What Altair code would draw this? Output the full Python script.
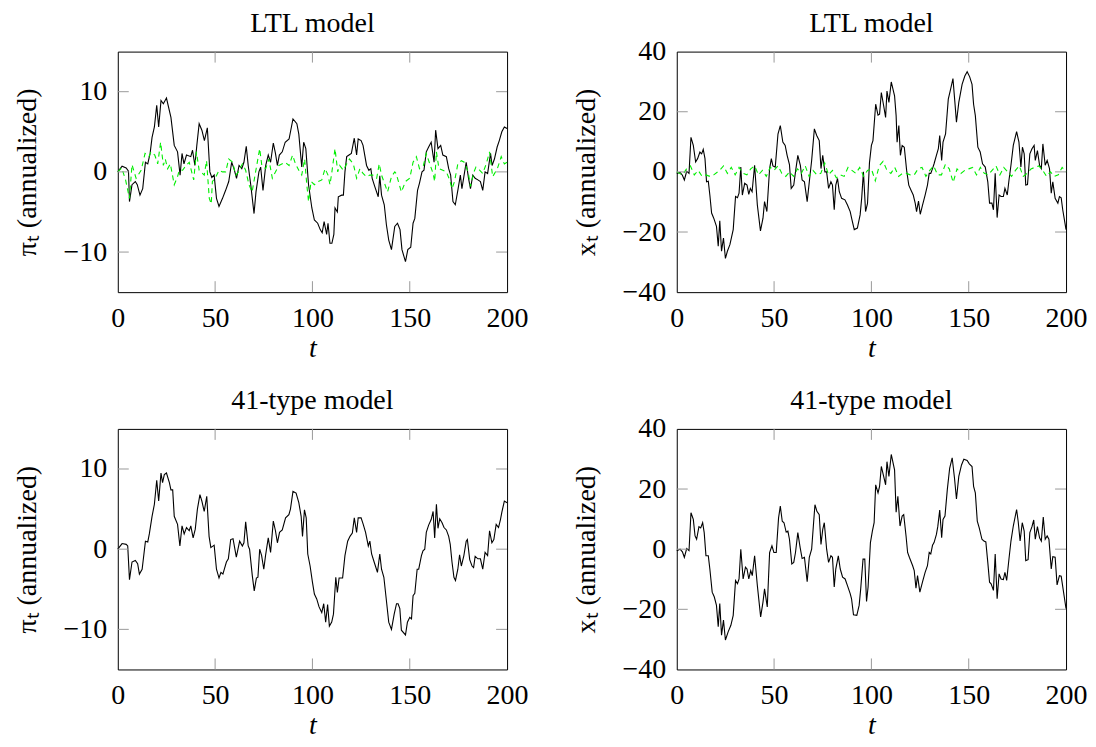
import altair as alt
import pandas as pd

# ---------------- data ----------------
X_TICKS = [0, 50, 100, 150, 200]
PI_TICKS = [-10, 0, 10]
X_GAP_TICKS = [-40, -20, 0, 20, 40]
TITLES = ["LTL model", "LTL model", "41-type model", "41-type model"]

# LTL model, inflation (black)
ltl_pi_t = [0, 2.2, 4.3, 5.5, 6, 7.3, 9, 10, 11.4, 12.8, 14.2, 15.4, 16.6, 17.6, 18.8, 20, 21, 22.2, 23.4, 25, 27.3, 29, 30.7, 32, 33, 34, 35.3, 37.5, 38.4, 39.6, 40.6, 41.8, 43.2, 44.5, 46, 47.3, 48.3, 49.5, 50.7, 52, 53.8, 55.4, 57, 58.5, 59.7, 61, 62.3, 63.7, 64.8, 66, 67, 68.3, 70, 71, 72.5, 73.4, 74.6, 76, 77.3, 78.5, 79.9, 81, 82, 83, 84.5, 86, 88, 90, 92, 93, 94.5, 95.5, 96.6, 98, 99.7, 101, 102.7, 104, 105, 106, 107.3, 108, 109, 110, 111, 111.6, 112.8, 113.3, 115, 115.9, 116.7, 117.6, 118.8, 120, 121.5, 122.7, 123.5, 125, 126, 127.8, 129, 130, 130.7, 132, 133.8, 134.6, 135.5, 136.9, 138, 139.2, 140.6, 142.3, 143.7, 145, 146, 147.8, 149, 150.5, 151.7, 152.6, 154, 155, 156.3, 157.3, 158.5, 159.7, 161, 162.5, 163.3, 164.5, 165.9, 167, 168.8, 170, 171, 172.2, 173.4, 174.7, 176, 176.8, 177.8, 179, 180.2, 181.2, 182.4, 183.6, 185, 186.3, 187.5, 188.7, 190, 191.5, 192.3, 193.5, 194.9, 196, 197.3, 198.6, 200]
ltl_pi_v = [0, 0.7, 0.5, 0.1, -3.7, -1.6, -1.2, -1.6, -2.9, -2.1, 1.2, 1.0, 2.3, 4.3, 5.6, 8.3, 5.6, 8.9, 8.5, 9.2, 6.8, 3.3, 2.5, -0.4, 2.3, 1.0, 2.1, 1.9, 2.7, 0.8, 3.3, 6.0, 5.2, 3.9, 5.5, 0, -0.7, -0.4, -3.3, -4.3, -3.3, -2.3, -1.2, 1.2, 0.4, -0.8, 0.8, 0.4, 1.2, 3.2, 0.8, -1.6, -5.2, -2.5, 0, 0.6, -2.3, 0.8, 2.1, 1.2, 3.6, 2.3, 0.8, 2.1, 2.5, 3.7, 4.1, 6.6, 6.0, 4.7, 0.6, 3.7, 2.9, -1.6, -4.5, -6.0, -6.4, -7.2, -7.6, -6.2, -7.8, -6.4, -8.9, -8.9, -7.8, -4.5, -5.0, -3.1, -2.9, -2.9, 0, 1.9, 2.1, 2.3, 4.2, 2.1, 4.1, 3.9, 3.3, 0.8, 0.2, 0.4, -0.8, -1.8, -3.1, -0.5, -2.9, -4.1, -6.6, -8.5, -9.7, -6.8, -6.4, -7.2, -9.7, -11.2, -9.7, -9.4, -6.4, -5.8, -2.3, -1.4, 0, 0.2, 2.5, 3.1, 3.7, 1.2, 5.2, 2.9, 3.3, 2.1, 1.9, 0.4, -0.4, -3.7, -4.1, -2.3, -0.4, -2.1, -0.6, 1.2, -0.8, -2.1, -0.4, -0.8, -1.0, -1.2, -2.3, 0, -0.2, 2.3, 0.8, 1.6, 3.1, 3.9, 5.0, 5.6, 5.4]

# LTL model, inflation (green dashed)
ltl_pi_g_t = [0, 2, 4, 6, 7.3, 9.4, 12, 14, 16, 17, 19, 20.5, 22, 23.4, 24.4, 25.6, 27, 29, 30.7, 31.6, 33.3, 35, 36.7, 39, 40.4, 41.8, 44.4, 45.6, 47, 48, 48.6, 50, 52, 53.8, 55.4, 57, 59, 60.6, 62, 64, 65.7, 67.4, 69, 70.8, 72.9, 74, 76, 77.6, 79.4, 81, 82.8, 84.5, 86, 88, 89.8, 91.3, 93, 94.5, 96, 97.1, 98, 99.3, 101, 103, 104.8, 106.5, 108, 109, 110, 111.6, 113, 114, 115.9, 117.6, 119, 121, 122.7, 124.4, 126, 127.8, 129.5, 131, 133, 134.3, 135.5, 137, 138.6, 140.6, 142.3, 143, 145.7, 147.8, 150, 151.7, 153.4, 155, 157, 158.5, 160, 162, 162.8, 163.7, 165, 167, 168.8, 170.5, 171.7, 173, 174.7, 176.5, 178, 180, 181.2, 183, 184, 186, 187.5, 189.3, 191, 192.6, 195, 197, 198.6, 200]
ltl_pi_g_v = [0, 0.5, -1.0, -3.3, 0.9, -0.8, 0.2, 2.3, 1.9, 2.5, 2.1, 1.0, 3.7, 0.8, 1.6, 0.4, 1.0, -1.6, -0.6, 0.2, 0.2, 0.8, 1.2, -1.0, 2.5, 0.2, -0.4, 1.4, -3.3, -4.0, -1.2, -0.8, 0.2, 0, 0, 1.6, 1.2, -0.4, 0, 1.0, 0.2, -1.6, -2.5, 0, 2.9, 0.8, 0.4, 1.6, -0.8, 0, 0.8, 1.0, 1.2, 0.8, 2.1, 1.0, 0.2, -0.4, 1.6, -1.6, -3.7, -1.2, -1.6, -1.2, -1.0, 0.4, -0.4, -1.6, 0, 2.9, 0, 0.8, 0.2, 1.0, 1.6, 1.0, -0.8, 0.4, -0.2, -0.6, -0.4, -0.4, -0.8, 1.0, -0.4, -1.4, -2.5, -0.6, 0, -0.2, -2.5, -1.2, -0.8, 1.2, 1.9, 0.4, 0.8, 2.3, 1.2, -0.2, -1.2, 2.5, 0.4, 0.2, 0, -1.0, -2.1, -1.2, 1.0, 1.4, 1.2, 0, -1.8, 0, 0.6, 0.2, -0.2, 1.0, 2.5, -0.6, 0.4, 1.9, 1.0, 1.2]

# LTL model, output gap (black)
ltl_x_t = [0, 1.7, 2.9, 3.9, 5.1, 6.3, 7.3, 8.5, 9.7, 10.7, 11.9, 12.8, 13.6, 14.5, 15.3, 16.2, 17, 17.9, 19, 20.4, 21.3, 22.1, 23, 24, 25, 26, 27.3, 29, 30.2, 31.2, 32, 32.9, 33.7, 34.9, 36.1, 37, 37.8, 38.7, 40, 41.4, 43, 44.3, 45.1, 46.3, 47.7, 48.6, 49.4, 50.6, 52, 53.2, 54.5, 55.7, 56.7, 57.9, 58.8, 60.1, 61, 62.2, 63.5, 64.4, 65.6, 67, 68.1, 69.3, 70.7, 71.9, 73.2, 74.1, 75, 76.1, 77, 78, 79.2, 80, 80.9, 81.7, 82.6, 83.5, 84.7, 86.4, 87.7, 89.1, 90, 91.2, 92.8, 94.2, 95, 95.9, 97, 98, 99, 100, 100.8, 102.2, 103.4, 104.2, 105.1, 106.3, 107.3, 108, 109, 110.2, 111.9, 112.7, 113.2, 114.1, 114.9, 115.8, 116.9, 118.1, 119.2, 120.3, 121.5, 122.5, 123.2, 124.2, 125.1, 126.3, 127.6, 128.8, 129.7, 130.5, 131.4, 132.2, 133.4, 134.4, 135.1, 136.1, 136.8, 138.1, 139.5, 140.7, 141.9, 142.9, 143.7, 144.9, 146.6, 148, 149.2, 150.5, 151.7, 152.5, 153.4, 154.7, 155.9, 157.1, 158.5, 159.8, 160.7, 161.9, 162.7, 163.6, 164.6, 165.6, 166.6, 167.8, 168.6, 169.8, 170.7, 171.7, 172.9, 174.6, 175.8, 176.8, 177.6, 178.5, 179.3, 180.2, 181.4, 182.5, 183.6, 184.2, 185.3, 186.4, 187.3, 188.1, 189.3, 190.3, 191.5, 192.4, 193.2, 194.4, 195.8, 196.6, 197.5, 198.3, 200]
ltl_x_v = [-0.5, -0.2, -1.1, -2.7, 0.2, -0.5, 11.5, 8.8, 3.3, 4.4, 6.6, 6.0, 7.5, 4.4, -3.3, -3.1, -7.7, -13.7, -15.4, -18.1, -24.7, -16.3, -26.4, -22, -28.8, -26.4, -24.2, -19.2, -8.2, -8.6, -7.1, 1.6, -7.7, -3.8, -4.4, -7.5, -5.5, -6.6, 2.2, -11, -19.6, -15.4, -9.9, -13.2, 1.1, 4.4, 2.0, 1.6, 12.6, 15.4, 9.9, 8.8, 5.5, 2.4, -5.5, -4.4, 0, 5.5, 2.2, -2.7, -3.3, -9.9, -3.3, 3.8, 14.3, 12.1, 10.4, 1.1, 5.5, 0, 0, -5.5, -3.3, -4.4, -12.6, -4.4, -2.2, -6.6, -8.8, -9.3, -11, -13.2, -15.9, -19.2, -18.7, -14.3, -8.8, 0, -13.2, -10.5, 3.0, 8.8, 10.4, 22.5, 18.9, 19.2, 26.4, 22, 18.1, 26.9, 23.1, 29.9, 25.3, 18.7, 9.9, 15.4, 5.5, 8.8, 8.2, 0.5, -4.4, -6.0, -7.7, -10.4, -13.2, -9.7, -14.1, -11, -7.7, -4.4, -0.5, -0.5, 1.1, 2.7, 5.5, 7.7, 12.1, 3.8, 9.9, 12.6, 24.2, 27.5, 31, 23.1, 16.5, 23.1, 29.1, 31.9, 33.3, 31.6, 29.1, 22.5, 18.7, 8.2, 6.6, 2.7, 1.6, -3.3, -10.4, -10.4, -12.6, -0.5, -15.2, -7.7, -8.2, -8.2, -5.5, -7.7, -2.7, 2.2, 8.8, 13.4, 9.9, 1.6, 8.2, 6.0, -4.4, -4.2, 6.0, 7.7, 8.8, 3.8, 7.1, 2.2, 1.1, 9.3, 2.2, 3.8, 1.1, -7.1, -3.3, -8.8, -10.4, -8.2, -8.6, -12.6, -19.2]

# LTL model, output gap (green dashed)
ltl_x_g_t = [0, 3, 5, 7, 9, 11, 13, 15, 17, 19, 22, 24, 26, 28, 30, 32, 34, 36, 38, 40, 42, 44, 46, 48, 50, 52, 54, 56, 58, 60, 62, 64, 66, 68, 70, 72, 74, 76, 78, 80, 82, 84, 86, 88, 90, 92, 94, 96, 98, 100, 102, 104, 106, 108, 110, 112, 114, 116, 118, 120, 122, 124, 126, 128, 130, 132, 134, 136, 138, 140, 142, 144, 146, 148, 150, 152, 154, 156, 158, 160, 162, 164, 166, 168, 170, 172, 174, 176, 178, 180, 182, 184, 186, 188, 190, 192, 194, 196, 198, 200]
ltl_x_g_v = [0, -1, 1, 2, -1, 0.5, -1.5, -1, -1.5, -1, 0.5, 2, -0.5, 1.5, -1, 1.5, -0.5, -1, 1, 2, -1, 0.5, -1.5, 1.5, 0.5, 2, -0.5, -1.5, 0, -1.5, 1, -0.5, 2, -1.5, 0.5, -1, -0.5, 3, -1, 0.5, -2, -1, -1.5, 1.5, 0.5, -0.5, 1.5, -1.5, 0.5, 1, -3, 2, 3.5, 0.5, -0.5, 1.5, -1.5, -0.5, -0.5, -1, -1, 1, 1.5, -1.5, 0.5, 2, -1, -1, 2.5, 1, -3.5, 1, -0.5, 0.5, 1, 1.5, -1, 1.5, -0.5, -1, 0.5, 2, -1, 1.5, 0, -1.5, 0.5, 2, -1.5, -0.5, 1, 1.5, 2, 0.5, -1.5, 0, -1.5, -1, 1.5, 0]

# 41-type model, inflation
t41_pi_t = [0, 2.2, 4.3, 5.1, 6, 7.3, 9, 10.2, 11.1, 12.5, 14.2, 15.4, 16.2, 17.6, 18.8, 20, 21, 22.2, 23, 23.9, 25, 26.5, 27.3, 28.2, 29, 30.7, 31.9, 33, 34.1, 35.3, 36.7, 37.5, 38.7, 39.8, 40.9, 42.2, 43.2, 44.4, 45.7, 46.9, 47.8, 49.5, 50.7, 52, 53, 54, 55.8, 56.8, 58, 59.2, 60.9, 62.6, 64, 64.8, 65.7, 67, 67.7, 69.1, 70.1, 71.2, 72, 72.9, 73.9, 75, 75.9, 77.3, 78.5, 79.9, 81, 82, 83.1, 84.5, 86.2, 87.9, 88.7, 90, 91.6, 93, 94.2, 94.9, 95.9, 96.8, 97.6, 98.8, 100, 101, 102.2, 103.4, 104.8, 105.8, 106.8, 107.8, 108.7, 109.9, 110.8, 112, 112.8, 113.7, 115.5, 116.7, 118.1, 119.3, 120.5, 121.5, 122.7, 123.5, 125, 126.1, 127.3, 128.7, 129.5, 130.4, 131.7, 132.9, 133.4, 134.6, 135.5, 136.7, 138, 139.2, 140.6, 142, 143.2, 144, 144.9, 145.7, 147.8, 148.8, 150, 150.9, 151.7, 152.6, 153.8, 154.6, 156, 156.8, 157.7, 158.5, 159.7, 161, 162, 162.8, 163.7, 164.5, 165.4, 166.6, 167.6, 168.8, 170, 170.8, 171.7, 172.7, 173.5, 174.7, 175.6, 176.5, 177.8, 179, 179.6, 180.8, 182, 182.8, 183.6, 185, 186.3, 187.5, 188.7, 190, 191, 192.2, 193.2, 194.4, 195.6, 196.6, 197.3, 198.6, 200]
t41_pi_v = [0, 0.7, 0.6, 0.4, -3.8, -1.6, -1.4, -1.8, -3.1, -2.5, 1.0, 0.9, 1.9, 4.1, 5.6, 8.6, 6.0, 9.5, 8.3, 9.3, 9.5, 8.3, 7.4, 7.4, 4.1, 3.1, 0.4, 2.9, 1.9, 2.7, 2.3, 2.9, 1.4, 2.5, 5.0, 6.8, 6.0, 4.7, 6.6, 1.6, 0.2, 0.5, -2.5, -3.6, -2.9, -3.1, -1.6, -1.2, 1.2, 1.3, -1.0, 1.0, 0.4, 0.8, 3.4, 0.4, 0, -3.3, -5.2, -3.6, -3.5, 0, -0.8, -2.5, -0.8, 1.4, -0.4, 3.5, 2.3, 0.8, 2.1, 2.4, 3.9, 4.3, 5.0, 7.2, 7.0, 5.8, 4.1, 1.6, 4.9, 3.9, -0.6, -2.1, -4.1, -5.6, -6.2, -7.2, -7.9, -6.8, -9.1, -6.9, -9.6, -9.1, -8.1, -3.5, -5.4, -3.6, -3.6, -0.8, 1.0, 1.6, 2.0, 3.9, 2.1, 3.9, 3.9, 3.1, 2.1, 0.4, 1.0, -0.6, -1.6, -2.5, -2.9, -0.6, -2.5, -3.5, -6.4, -9.1, -10.0, -8.1, -6.8, -6.8, -7.4, -10.1, -10.7, -9.1, -8.5, -8.7, -5.8, -5.5, -2.5, -2.5, -0.8, -0.2, 0, 2.1, 3.0, 3.7, 4.7, 1.4, 5.6, 2.6, 3.8, 3.3, 2.7, 2.4, 1.6, 0.6, -1.6, -3.5, -3.9, -2.5, -0.7, -2.1, -0.8, 1.0, 1.2, -1.3, -2.1, -2.3, -0.9, -1.2, -1.2, -2.5, -0.4, -0.8, 2.3, 0.8, 1.2, 3.1, 2.7, 3.7, 4.6, 6.0, 5.8]

# 41-type model, output gap
t41_x_t = [0, 1.7, 2.9, 3.9, 5.1, 6.3, 7.3, 8.5, 9.4, 10.2, 11.4, 12.3, 13.3, 14.1, 15, 16.2, 17, 18.2, 19.3, 20.4, 21.3, 22.1, 23, 24, 25, 26.4, 27.8, 29, 30.2, 31.2, 32, 32.9, 34.1, 35.3, 36.1, 37, 38, 38.8, 40, 41.4, 43.1, 44.3, 45.1, 46.5, 47.7, 48.9, 49.9, 51.1, 52.3, 53.2, 54.2, 55.1, 56.2, 57.1, 57.9, 59.1, 60.1, 61, 62.2, 63.4, 64.4, 65.6, 67, 68.1, 69.3, 70.3, 71, 72, 73.2, 74.1, 75, 75.8, 77, 78, 79.2, 80, 80.9, 81.7, 83, 84, 85.2, 86.5, 87.7, 89.1, 89.8, 90.8, 92.5, 93.7, 94.5, 95.7, 96.6, 97.5, 98.3, 99.5, 100.5, 101.4, 102.2, 103.4, 104.2, 105.1, 106.3, 107.3, 108, 109, 110.2, 111.9, 112.7, 113.6, 114.7, 115.8, 116.6, 117.8, 118.6, 119.5, 121.2, 122, 122.9, 123.7, 124.9, 126.3, 127.6, 128.8, 129.7, 130.5, 131.4, 132.2, 133.4, 134.1, 135.1, 136.1, 136.8, 137.8, 139, 140.2, 141.5, 142.7, 143.7, 144.9, 146.3, 147.5, 149.2, 150.3, 151.7, 152.5, 153.4, 154.4, 155.4, 156.8, 157.8, 158.8, 159.8, 160.7, 161.5, 162.7, 163.6, 164.6, 165.6, 166.6, 167.8, 168.6, 169.5, 170.7, 171.7, 172.9, 174.6, 175.4, 176.4, 177.5, 178.5, 179.3, 180.5, 181.4, 182.5, 183.4, 184.2, 185.3, 186.4, 187.3, 188.3, 189.3, 190.3, 191.2, 192.4, 193.2, 194.4, 195.4, 196.6, 197.5, 200]
t41_x_v = [-0.5, 0, -0.9, -2.7, 0.2, -0.5, 12.1, 9.9, 4.4, 3.3, 7.5, 7.1, 8.8, 5.5, -2.2, -2.2, -6.6, -14.3, -15.9, -18.7, -25.8, -18.1, -28.6, -23.6, -30.2, -27.5, -25.3, -22, -10.4, -11.5, -9.9, 0, -9.9, -6.0, -6.6, -9.9, -7.1, -8.8, -2.2, -12.1, -22.5, -17.6, -13.2, -19.2, -1.1, 1.1, -1.1, -1.1, 10.4, 14.3, 9.3, 8.8, 5.7, 6.0, 3.3, -4.9, -4.4, -1.1, 5.5, 0.5, -3.1, -2.7, -10.8, -2.7, 0, 8.8, 14.8, 12.6, 11.5, 1.6, 6.6, 8.8, 0, -4.4, -2.2, -2.7, -12.6, -6.6, -2.2, -6.6, -9.3, -9.9, -12.1, -14.8, -16.5, -21.8, -22, -18.7, -13.2, -3.3, -3.3, -17.4, -12.6, 2.2, 6.0, 8.8, 21.4, 18.7, 20.9, 27.5, 24.2, 21.4, 29.1, 24.2, 31.5, 26.4, 12.3, 17.6, 7.7, 11, 11.5, 4.4, -1.1, -2.7, -5.5, -7.1, -13, -8.8, -14.3, -10.8, -7.7, -5.5, -1.1, -1.6, 1.3, 2.2, 4.9, 7.5, 13, 3.8, 9.9, 11, 19.8, 26.9, 30.4, 23.6, 16.7, 24.2, 28, 29.9, 29.5, 28.4, 27.5, 20.9, 18.7, 9.3, 7.1, 3.3, 2.7, 2.4, -4.4, -11, -11.5, -13.7, -1.6, -16.5, -8.2, -9.9, -10.1, -7.7, -10.4, -3.1, 2.7, 7.7, 13.2, 9.3, 2.7, 8.8, 6.0, -3.8, -3.5, 5.5, 7.5, 9.7, 3.3, 7.5, 3.8, 2.7, 10.7, 3.3, 4.4, 3.3, -6.6, -2.5, -2.7, -11.9, -8.8, -9.0, -19.8]

# ---------------- chart ----------------
FONT = "Liberation Serif"
W, H = 390, 241
TICK = 11
TICK_COLOR = "#9a9a9a"


def panel(t_black, v_black, t_green, v_green, ydom, yticks, ytitle, title):
    xenc = alt.X("t:Q", scale=alt.Scale(domain=[0, 200], nice=False, zero=False),
                 axis=alt.Axis(values=X_TICKS, title="t", titleFontStyle="italic",
                               labelPadding=12, titlePadding=2, labelFlush=False,
                               grid=False, ticks=False, domain=False))
    yenc = alt.Y("v:Q", scale=alt.Scale(domain=ydom, nice=False, zero=False),
                 axis=alt.Axis(values=yticks, title=ytitle, labelPadding=11,
                               titlePadding=22, labelFlush=False,
                               grid=False, ticks=False, domain=False))
    layers = [
        alt.Chart(pd.DataFrame({"t": t_black, "v": v_black}))
        .mark_line(color="black", strokeWidth=1.1)
        .encode(x=xenc, y=yenc, order="t:Q")
    ]
    if t_green is not None:
        layers.append(
            alt.Chart(pd.DataFrame({"t": t_green, "v": v_green}))
            .mark_line(color="#00ee00", strokeWidth=1.1, strokeDash=[5, 4])
            .encode(x="t:Q", y="v:Q", order="t:Q")
        )
    xt = pd.DataFrame({"t": X_TICKS[1:-1]})
    yt = pd.DataFrame({"v": yticks[1:-1] if yticks[0] == ydom[0] else yticks})
    rule = dict(color=TICK_COLOR, strokeWidth=1)
    layers += [
        alt.Chart(xt).mark_rule(**rule).encode(x="t:Q", y=alt.value(H), y2=alt.value(H - TICK)),
        alt.Chart(xt).mark_rule(**rule).encode(x="t:Q", y=alt.value(0), y2=alt.value(TICK)),
        alt.Chart(yt).mark_rule(**rule).encode(y="v:Q", x=alt.value(0), x2=alt.value(TICK)),
        alt.Chart(yt).mark_rule(**rule).encode(y="v:Q", x=alt.value(W), x2=alt.value(W - TICK)),
        alt.Chart(pd.DataFrame({"title": [title]}))
        .mark_text(font=FONT, fontSize=28, baseline="alphabetic", align="center",
                   color="black")
        .encode(text="title:N", x=alt.value(W / 2), y=alt.value(-20)),
    ]
    return alt.layer(*layers).properties(width=W, height=H)


tl = panel(ltl_pi_t, ltl_pi_v, ltl_pi_g_t, ltl_pi_g_v, [-15, 15], PI_TICKS,
           "πₜ (annualized)", TITLES[0])
tr = panel(ltl_x_t, ltl_x_v, ltl_x_g_t, ltl_x_g_v, [-40, 40], X_GAP_TICKS,
           "xₜ (annualized)", TITLES[1])
bl = panel(t41_pi_t, t41_pi_v, None, None, [-15, 15], PI_TICKS,
           "πₜ (annualized)", TITLES[2])
br = panel(t41_x_t, t41_x_v, None, None, [-40, 40], X_GAP_TICKS,
           "xₜ (annualized)", TITLES[3])

chart = (
    alt.concat(tl, tr, bl, br, columns=2,
               spacing=alt.RowColnumber(row=137, column=170), bounds="flush")
    .properties(padding={"left": 4, "top": 0, "right": 0, "bottom": 4},
                background="white")
    .configure_axis(labelFont=FONT, labelFontSize=28, labelColor="black",
                    titleFont=FONT, titleFontSize=28, titleFontWeight="normal",
                    titleColor="black", ticks=False, tickSize=0, domain=False,
                    grid=False)
    .configure_view(stroke="black", strokeWidth=1)
)

chart.save("out.html", embed_options={"renderer": "svg", "actions": False})
